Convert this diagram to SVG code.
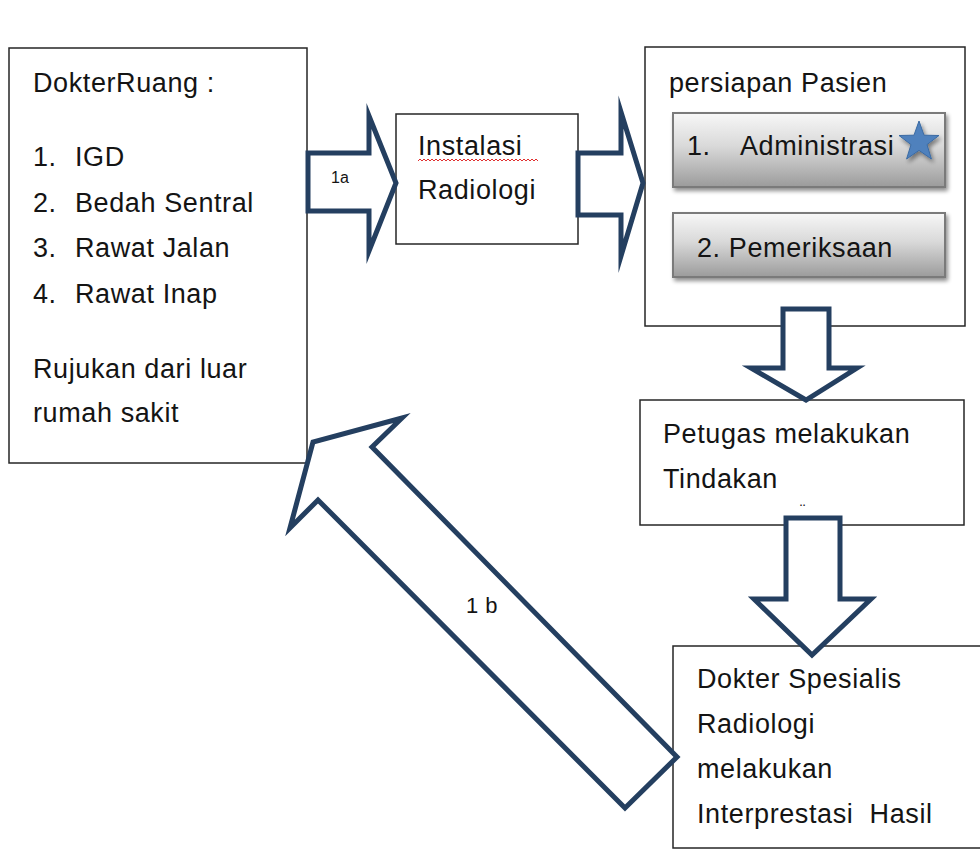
<svg xmlns="http://www.w3.org/2000/svg" width="980" height="855" viewBox="0 0 980 855">
  <defs>
    <linearGradient id="btn" x1="0" y1="0" x2="0" y2="1">
      <stop offset="0" stop-color="#f7f7f7"/>
      <stop offset="0.45" stop-color="#d9d9d9"/>
      <stop offset="1" stop-color="#9b9b9b"/>
    </linearGradient>
    <filter id="sh" x="-10%" y="-10%" width="130%" height="140%">
      <feGaussianBlur in="SourceAlpha" stdDeviation="2"/>
      <feOffset dx="2" dy="3" result="b"/>
      <feComponentTransfer><feFuncA type="linear" slope="0.45"/></feComponentTransfer>
      <feMerge><feMergeNode/><feMergeNode in="SourceGraphic"/></feMerge>
    </filter>
  </defs>
  <style>
    .box { fill: #ffffff; stroke: #262626; stroke-width: 1.5; }
    .btn { fill: url(#btn); stroke: #7a7a7a; stroke-width: 2; }
    .arr { fill: #ffffff; stroke: #243f60; stroke-width: 5; stroke-linejoin: miter; stroke-miterlimit: 10; }
    text { font-family: "Liberation Sans", "Open Sans", sans-serif; font-size: 27px; letter-spacing: 0.6px; fill: #141414; white-space: pre; }
    .small { font-size: 16px; letter-spacing: 0; }
    .mid { font-size: 22px; letter-spacing: 0.5px; }
  </style>
  <rect width="980" height="855" fill="#ffffff"/>

  <g id="node-dokter-ruang">
    <rect class="box" x="9" y="48" width="298" height="415"/>
    <text x="33" y="92">DokterRuang :</text>
    <text x="33" y="166">1.</text><text x="75" y="166">IGD</text>
    <text x="33" y="212">2.</text><text x="75" y="212">Bedah Sentral</text>
    <text x="33" y="257">3.</text><text x="75" y="257">Rawat Jalan</text>
    <text x="33" y="303">4.</text><text x="75" y="303">Rawat Inap</text>
    <text x="33" y="378">Rujukan dari luar</text>
    <text x="33" y="422">rumah sakit</text>
  </g>

  <g id="node-instalasi">
    <rect class="box" x="396" y="114" width="182" height="130"/>
    <text x="418" y="155">Instalasi</text>
    <path d="M418 161 l2 -2 l2 2 l2 -2 l2 2 l2 -2 l2 2 l2 -2 l2 2 l2 -2 l2 2 l2 -2 l2 2 l2 -2 l2 2 l2 -2 l2 2 l2 -2 l2 2 l2 -2 l2 2 l2 -2 l2 2 l2 -2 l2 2 l2 -2 l2 2 l2 -2 l2 2 l2 -2 l2 2 l2 -2 l2 2 l2 -2 l2 2 l2 -2 l2 2 l2 -2 l2 2 l2 -2 l2 2 l2 -2 l2 2 l2 -2 l2 2 l2 -2 l2 2 l2 -2 l2 2 l2 -2 l2 2 l2 -2 l2 2 l2 -2 l2 2 l2 -2 l2 2 l2 -2 l2 2 l2 -2 l2 2" fill="none" stroke="#e03030" stroke-width="1"/>
    <text x="418" y="199">Radiologi</text>
  </g>

  <g id="node-persiapan">
    <rect class="box" x="645" y="47" width="320" height="279"/>
    <text x="669" y="92">persiapan Pasien</text>
    <rect class="btn" x="673" y="113" width="272" height="74" filter="url(#sh)"/>
    <text x="687" y="155">1.</text><text x="740" y="155">Administrasi</text>
    <polygon points="919,121 924,135.2 939,135.5 927,144.6 931.4,159 919,150.4 906.6,159 911,144.6 899,135.5 914,135.2" fill="#4f81bd" stroke="#3a6aa3" stroke-width="1" filter="url(#sh)"/>
    <rect class="btn" x="673" y="213" width="272" height="64" filter="url(#sh)"/>
    <text x="697" y="257">2. Pemeriksaan</text>
  </g>

  <g id="node-petugas">
    <rect class="box" x="640" y="400" width="324" height="125"/>
    <text x="663" y="443">Petugas melakukan</text>
    <text x="663" y="488">Tindakan</text>
    <text x="800" y="516" class="small">¨</text>
  </g>

  <g id="node-dokter-spesialis">
    <rect class="box" x="673" y="646" width="320" height="202"/>
    <text x="697" y="688">Dokter Spesialis</text>
    <text x="697" y="733">Radiologi</text>
    <text x="697" y="778">melakukan</text>
    <text x="697" y="823">Interprestasi  Hasil</text>
  </g>

  <g id="connectors">
    <g id="arrow-1a">
      <polygon class="arr" points="308,153 369,153 369,116 396,183 369,251 369,211 308,211"/>
      <text x="331" y="183" class="small">1a</text>
    </g>
    <g id="arrow-instalasi-persiapan">
      <polygon class="arr" points="578,153 621,153 621,112 643,183 621,256 621,215 578,215"/>
    </g>
    <g id="arrow-persiapan-petugas">
      <polygon class="arr" points="783,309 829,309 829,368 857,368 806,400 751,368 783,368"/>
    </g>
    <g id="arrow-petugas-spesialis">
      <polygon class="arr" points="786,518 840,518 840,599 871,599 812,655 754,599 786,599"/>
    </g>
    <g id="arrow-1b">
      <polygon class="arr" points="625,808 677,757 372,447 402,418 313,442 290,528 318,500"/>
      <text x="482" y="613" class="mid" text-anchor="middle">1 b</text>
    </g>
  </g>
</svg>
